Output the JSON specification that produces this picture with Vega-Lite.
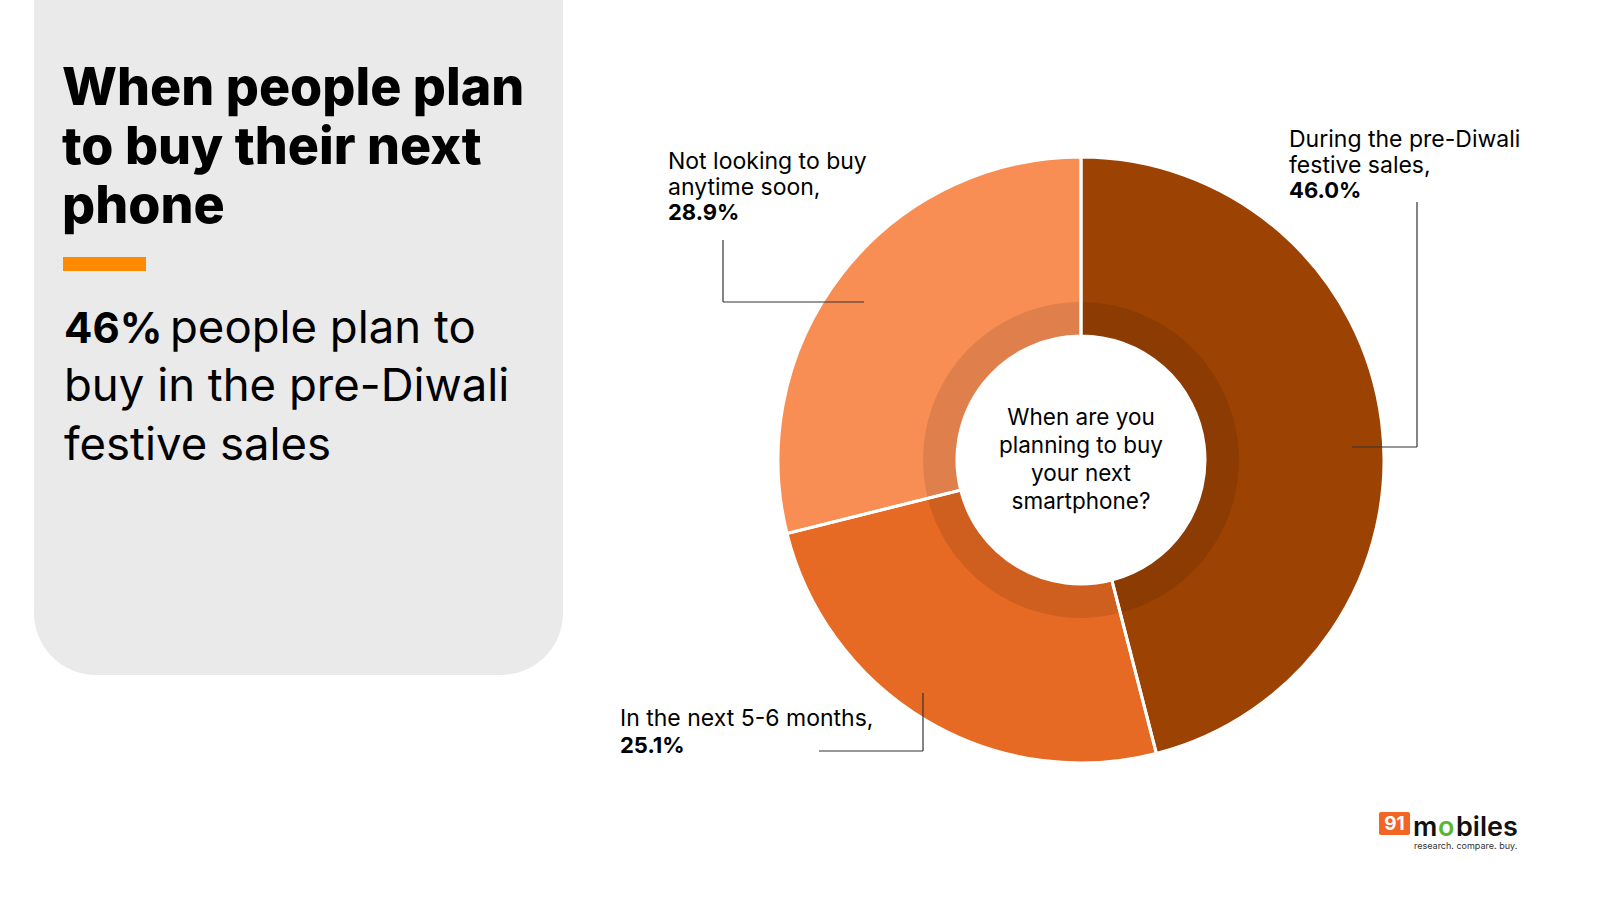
{
  "$schema": "https://vega.github.io/schema/vega-lite/v6.json",
  "width": 1600,
  "height": 900,
  "autosize": {"type": "fit", "contains": "padding"},
  "padding": 0,
  "background": "#ffffff",
  "config": {"view": {"stroke": null}, "font": "Inter", "text": {"font": "Inter"}},
  "datasets": {
    "slices": [
      {"category": "During the pre-Diwali festive sales", "label": "During the pre-Diwali\nfestive sales,", "share": 0.460, "order": 1},
      {"category": "In the next 5-6 months", "label": "In the next 5-6 months,", "share": 0.251, "order": 2},
      {"category": "Not looking to buy anytime soon", "label": "Not looking to buy\nanytime soon,", "share": 0.289, "order": 3}
    ],
    "notes": [
      {"role": "panel", "text": ""},
      {"role": "title", "text": "When people plan\nto buy their next\nphone"},
      {"role": "highlight", "text": "46%"},
      {"role": "sub1", "text": "people plan to"},
      {"role": "sub2", "text": "buy in the pre-Diwali\nfestive sales"},
      {"role": "question", "text": "When are you\nplanning to buy\nyour next\nsmartphone?"},
      {"role": "logo91", "text": "91"},
      {"role": "logom", "text": "m"},
      {"role": "logoo", "text": "o"},
      {"role": "logobiles", "text": "biles"},
      {"role": "tagline", "text": "research.  compare.  buy."}
    ]
  },
  "layer": [
    {
      "data": {"name": "notes"},
      "transform": [{"filter": "datum.role === 'panel'"}],
      "mark": {"type": "rect", "fill": "#eaeaea", "cornerRadiusBottomLeft": 62, "cornerRadiusBottomRight": 62},
      "encoding": {
        "x": {"datum": 34, "type": "quantitative", "scale": {"domain": [0, 1600], "nice": false, "zero": false}, "axis": null},
        "x2": {"datum": 563},
        "y": {"datum": 0, "type": "quantitative", "scale": {"domain": [0, 900], "nice": false, "zero": false, "reverse": true}, "axis": null},
        "y2": {"datum": 675}
      }
    },
    {
      "data": {"name": "notes"},
      "transform": [{"filter": "datum.role === 'panel'"}],
      "mark": {"type": "rect", "fill": "#ff8a00"},
      "encoding": {
        "x": {"datum": 63, "type": "quantitative", "scale": {"domain": [0, 1600], "nice": false, "zero": false}, "axis": null},
        "x2": {"datum": 146},
        "y": {"datum": 257, "type": "quantitative", "scale": {"domain": [0, 900], "nice": false, "zero": false, "reverse": true}, "axis": null},
        "y2": {"datum": 271}
      }
    },
    {
      "data": {"name": "notes"},
      "transform": [{"filter": "datum.role === 'title'"}],
      "mark": {"type": "text", "align": "left", "baseline": "alphabetic", "fontSize": 52, "fontWeight": 800, "lineBreak": "\n", "lineHeight": 59, "color": "#000000"},
      "encoding": {
        "x": {"datum": 62, "type": "quantitative", "scale": {"domain": [0, 1600], "nice": false, "zero": false}, "axis": null},
        "y": {"datum": 105, "type": "quantitative", "scale": {"domain": [0, 900], "nice": false, "zero": false, "reverse": true}, "axis": null},
        "text": {"field": "text"}
      }
    },
    {
      "data": {"name": "notes"},
      "transform": [{"filter": "datum.role === 'highlight'"}],
      "mark": {"type": "text", "align": "left", "baseline": "alphabetic", "fontSize": 42, "fontWeight": "bold", "color": "#000000"},
      "encoding": {
        "x": {"datum": 64, "type": "quantitative", "scale": {"domain": [0, 1600], "nice": false, "zero": false}, "axis": null},
        "y": {"datum": 343, "type": "quantitative", "scale": {"domain": [0, 900], "nice": false, "zero": false, "reverse": true}, "axis": null},
        "text": {"field": "text"}
      }
    },
    {
      "data": {"name": "notes"},
      "transform": [{"filter": "datum.role === 'sub1'"}],
      "mark": {"type": "text", "align": "left", "baseline": "alphabetic", "fontSize": 45.5, "color": "#000000"},
      "encoding": {
        "x": {"datum": 170, "type": "quantitative", "scale": {"domain": [0, 1600], "nice": false, "zero": false}, "axis": null},
        "y": {"datum": 343, "type": "quantitative", "scale": {"domain": [0, 900], "nice": false, "zero": false, "reverse": true}, "axis": null},
        "text": {"field": "text"}
      }
    },
    {
      "data": {"name": "notes"},
      "transform": [{"filter": "datum.role === 'sub2'"}],
      "mark": {"type": "text", "align": "left", "baseline": "alphabetic", "fontSize": 45.5, "lineBreak": "\n", "lineHeight": 59, "color": "#000000"},
      "encoding": {
        "x": {"datum": 64, "type": "quantitative", "scale": {"domain": [0, 1600], "nice": false, "zero": false}, "axis": null},
        "y": {"datum": 401, "type": "quantitative", "scale": {"domain": [0, 900], "nice": false, "zero": false, "reverse": true}, "axis": null},
        "text": {"field": "text"}
      }
    },
    {
      "data": {"name": "slices"},
      "mark": {"type": "arc", "radius": 303, "radius2": 124},
      "encoding": {
        "x": {"datum": 1081, "type": "quantitative", "scale": {"domain": [0, 1600], "nice": false, "zero": false}, "axis": null},
        "y": {"datum": 460, "type": "quantitative", "scale": {"domain": [0, 900], "nice": false, "zero": false, "reverse": true}, "axis": null},
        "theta": {"field": "share", "type": "quantitative", "stack": true},
        "order": {"field": "order", "type": "quantitative"},
        "color": {
          "field": "category", "type": "nominal", "legend": null,
          "scale": {
            "domain": ["During the pre-Diwali festive sales", "In the next 5-6 months", "Not looking to buy anytime soon"],
            "range": ["#9c4304", "#e66a23", "#f98e54"]
          }
        }
      }
    },
    {
      "data": {"name": "slices"},
      "mark": {"type": "arc", "radius": 158, "radius2": 124, "fill": "#000000", "fillOpacity": 0.1},
      "encoding": {
        "x": {"datum": 1081, "type": "quantitative", "scale": {"domain": [0, 1600], "nice": false, "zero": false}, "axis": null},
        "y": {"datum": 460, "type": "quantitative", "scale": {"domain": [0, 900], "nice": false, "zero": false, "reverse": true}, "axis": null},
        "theta": {"field": "share", "type": "quantitative", "stack": true},
        "order": {"field": "order", "type": "quantitative"}
      }
    },
    {
      "data": {"name": "slices"},
      "mark": {"type": "arc", "radius": 303, "radius2": 124, "fillOpacity": 0, "stroke": "#ffffff", "strokeWidth": 3},
      "encoding": {
        "x": {"datum": 1081, "type": "quantitative", "scale": {"domain": [0, 1600], "nice": false, "zero": false}, "axis": null},
        "y": {"datum": 460, "type": "quantitative", "scale": {"domain": [0, 900], "nice": false, "zero": false, "reverse": true}, "axis": null},
        "theta": {"field": "share", "type": "quantitative", "stack": true},
        "order": {"field": "order", "type": "quantitative"}
      }
    },
    {
      "data": {"name": "notes"},
      "transform": [{"filter": "datum.role === 'question'"}],
      "mark": {"type": "text", "align": "center", "baseline": "middle", "fontSize": 22.5, "lineBreak": "\n", "lineHeight": 28, "color": "#000000"},
      "encoding": {
        "x": {"datum": 1081, "type": "quantitative", "scale": {"domain": [0, 1600], "nice": false, "zero": false}, "axis": null},
        "y": {"datum": 418, "type": "quantitative", "scale": {"domain": [0, 900], "nice": false, "zero": false, "reverse": true}, "axis": null},
        "text": {"field": "text"}
      }
    },
    {
      "data": {"name": "slices"},
      "transform": [{"filter": "datum.order === 1"}],
      "mark": {"type": "text", "align": "left", "baseline": "alphabetic", "fontSize": 23, "lineBreak": "\n", "lineHeight": 25.5, "color": "#000000"},
      "encoding": {
        "x": {"datum": 1289, "type": "quantitative", "scale": {"domain": [0, 1600], "nice": false, "zero": false}, "axis": null},
        "y": {"datum": 147, "type": "quantitative", "scale": {"domain": [0, 900], "nice": false, "zero": false, "reverse": true}, "axis": null},
        "text": {"field": "label"}
      }
    },
    {
      "data": {"name": "slices"},
      "transform": [{"filter": "datum.order === 1"}],
      "mark": {"type": "text", "align": "left", "baseline": "alphabetic", "fontSize": 22, "fontWeight": "bold", "color": "#000000"},
      "encoding": {
        "x": {"datum": 1289, "type": "quantitative", "scale": {"domain": [0, 1600], "nice": false, "zero": false}, "axis": null},
        "y": {"datum": 198, "type": "quantitative", "scale": {"domain": [0, 900], "nice": false, "zero": false, "reverse": true}, "axis": null},
        "text": {"field": "share", "type": "quantitative", "format": ".1%"}
      }
    },
    {
      "data": {"name": "slices"},
      "transform": [{"filter": "datum.order === 3"}],
      "mark": {"type": "text", "align": "left", "baseline": "alphabetic", "fontSize": 23, "lineBreak": "\n", "lineHeight": 25.5, "color": "#000000"},
      "encoding": {
        "x": {"datum": 668, "type": "quantitative", "scale": {"domain": [0, 1600], "nice": false, "zero": false}, "axis": null},
        "y": {"datum": 169, "type": "quantitative", "scale": {"domain": [0, 900], "nice": false, "zero": false, "reverse": true}, "axis": null},
        "text": {"field": "label"}
      }
    },
    {
      "data": {"name": "slices"},
      "transform": [{"filter": "datum.order === 3"}],
      "mark": {"type": "text", "align": "left", "baseline": "alphabetic", "fontSize": 22, "fontWeight": "bold", "color": "#000000"},
      "encoding": {
        "x": {"datum": 668, "type": "quantitative", "scale": {"domain": [0, 1600], "nice": false, "zero": false}, "axis": null},
        "y": {"datum": 220, "type": "quantitative", "scale": {"domain": [0, 900], "nice": false, "zero": false, "reverse": true}, "axis": null},
        "text": {"field": "share", "type": "quantitative", "format": ".1%"}
      }
    },
    {
      "data": {"name": "slices"},
      "transform": [{"filter": "datum.order === 2"}],
      "mark": {"type": "text", "align": "left", "baseline": "alphabetic", "fontSize": 23, "color": "#000000"},
      "encoding": {
        "x": {"datum": 620, "type": "quantitative", "scale": {"domain": [0, 1600], "nice": false, "zero": false}, "axis": null},
        "y": {"datum": 726, "type": "quantitative", "scale": {"domain": [0, 900], "nice": false, "zero": false, "reverse": true}, "axis": null},
        "text": {"field": "label"}
      }
    },
    {
      "data": {"name": "slices"},
      "transform": [{"filter": "datum.order === 2"}],
      "mark": {"type": "text", "align": "left", "baseline": "alphabetic", "fontSize": 22, "fontWeight": "bold", "color": "#000000"},
      "encoding": {
        "x": {"datum": 620, "type": "quantitative", "scale": {"domain": [0, 1600], "nice": false, "zero": false}, "axis": null},
        "y": {"datum": 753, "type": "quantitative", "scale": {"domain": [0, 900], "nice": false, "zero": false, "reverse": true}, "axis": null},
        "text": {"field": "share", "type": "quantitative", "format": ".1%"}
      }
    },
    {
      "data": {"name": "slices"},
      "transform": [{"filter": "datum.order === 3"}],
      "layer": [
        {"mark": {"type": "rule", "color": "#333333", "strokeWidth": 1.2},
         "encoding": {
           "x": {"datum": 723, "type": "quantitative", "scale": {"domain": [0, 1600], "nice": false, "zero": false}, "axis": null},
           "y": {"datum": 240, "type": "quantitative", "scale": {"domain": [0, 900], "nice": false, "zero": false, "reverse": true}, "axis": null},
           "y2": {"datum": 302}
         }},
        {"mark": {"type": "rule", "color": "#333333", "strokeWidth": 1.2},
         "encoding": {
           "x": {"datum": 723, "type": "quantitative", "scale": {"domain": [0, 1600], "nice": false, "zero": false}, "axis": null},
           "x2": {"datum": 864},
           "y": {"datum": 302, "type": "quantitative", "scale": {"domain": [0, 900], "nice": false, "zero": false, "reverse": true}, "axis": null}
         }}
      ]
    },
    {
      "data": {"name": "slices"},
      "transform": [{"filter": "datum.order === 1"}],
      "layer": [
        {"mark": {"type": "rule", "color": "#333333", "strokeWidth": 1.2},
         "encoding": {
           "x": {"datum": 1417, "type": "quantitative", "scale": {"domain": [0, 1600], "nice": false, "zero": false}, "axis": null},
           "y": {"datum": 202, "type": "quantitative", "scale": {"domain": [0, 900], "nice": false, "zero": false, "reverse": true}, "axis": null},
           "y2": {"datum": 447}
         }},
        {"mark": {"type": "rule", "color": "#333333", "strokeWidth": 1.2},
         "encoding": {
           "x": {"datum": 1352, "type": "quantitative", "scale": {"domain": [0, 1600], "nice": false, "zero": false}, "axis": null},
           "x2": {"datum": 1417},
           "y": {"datum": 447, "type": "quantitative", "scale": {"domain": [0, 900], "nice": false, "zero": false, "reverse": true}, "axis": null}
         }}
      ]
    },
    {
      "data": {"name": "slices"},
      "transform": [{"filter": "datum.order === 2"}],
      "layer": [
        {"mark": {"type": "rule", "color": "#333333", "strokeWidth": 1.2},
         "encoding": {
           "x": {"datum": 923, "type": "quantitative", "scale": {"domain": [0, 1600], "nice": false, "zero": false}, "axis": null},
           "y": {"datum": 693, "type": "quantitative", "scale": {"domain": [0, 900], "nice": false, "zero": false, "reverse": true}, "axis": null},
           "y2": {"datum": 751}
         }},
        {"mark": {"type": "rule", "color": "#333333", "strokeWidth": 1.2},
         "encoding": {
           "x": {"datum": 819, "type": "quantitative", "scale": {"domain": [0, 1600], "nice": false, "zero": false}, "axis": null},
           "x2": {"datum": 923},
           "y": {"datum": 751, "type": "quantitative", "scale": {"domain": [0, 900], "nice": false, "zero": false, "reverse": true}, "axis": null}
         }}
      ]
    },
    {
      "data": {"name": "notes"},
      "transform": [{"filter": "datum.role === 'logo91'"}],
      "mark": {"type": "rect", "fill": "#f26522", "cornerRadius": 2},
      "encoding": {
        "x": {"datum": 1379, "type": "quantitative", "scale": {"domain": [0, 1600], "nice": false, "zero": false}, "axis": null},
        "x2": {"datum": 1410},
        "y": {"datum": 812, "type": "quantitative", "scale": {"domain": [0, 900], "nice": false, "zero": false, "reverse": true}, "axis": null},
        "y2": {"datum": 835}
      }
    },
    {
      "data": {"name": "notes"},
      "transform": [{"filter": "datum.role === 'logo91'"}],
      "mark": {"type": "text", "align": "center", "baseline": "middle", "fontSize": 19, "fontWeight": "bold", "color": "#ffffff"},
      "encoding": {
        "x": {"datum": 1394.5, "type": "quantitative", "scale": {"domain": [0, 1600], "nice": false, "zero": false}, "axis": null},
        "y": {"datum": 824, "type": "quantitative", "scale": {"domain": [0, 900], "nice": false, "zero": false, "reverse": true}, "axis": null},
        "text": {"field": "text"}
      }
    },
    {
      "data": {"name": "notes"},
      "transform": [{"filter": "datum.role === 'logom'"}],
      "mark": {"type": "text", "align": "left", "baseline": "alphabetic", "fontSize": 27, "fontWeight": 600, "color": "#111111"},
      "encoding": {
        "x": {"datum": 1413, "type": "quantitative", "scale": {"domain": [0, 1600], "nice": false, "zero": false}, "axis": null},
        "y": {"datum": 836, "type": "quantitative", "scale": {"domain": [0, 900], "nice": false, "zero": false, "reverse": true}, "axis": null},
        "text": {"field": "text"}
      }
    },
    {
      "data": {"name": "notes"},
      "transform": [{"filter": "datum.role === 'logoo'"}],
      "mark": {"type": "text", "align": "left", "baseline": "alphabetic", "fontSize": 27, "fontWeight": 600, "color": "#5cb531"},
      "encoding": {
        "x": {"datum": 1438, "type": "quantitative", "scale": {"domain": [0, 1600], "nice": false, "zero": false}, "axis": null},
        "y": {"datum": 836, "type": "quantitative", "scale": {"domain": [0, 900], "nice": false, "zero": false, "reverse": true}, "axis": null},
        "text": {"field": "text"}
      }
    },
    {
      "data": {"name": "notes"},
      "transform": [{"filter": "datum.role === 'logobiles'"}],
      "mark": {"type": "text", "align": "left", "baseline": "alphabetic", "fontSize": 27, "fontWeight": 600, "color": "#111111"},
      "encoding": {
        "x": {"datum": 1456, "type": "quantitative", "scale": {"domain": [0, 1600], "nice": false, "zero": false}, "axis": null},
        "y": {"datum": 836, "type": "quantitative", "scale": {"domain": [0, 900], "nice": false, "zero": false, "reverse": true}, "axis": null},
        "text": {"field": "text"}
      }
    },
    {
      "data": {"name": "notes"},
      "transform": [{"filter": "datum.role === 'tagline'"}],
      "mark": {"type": "text", "align": "left", "baseline": "alphabetic", "fontSize": 9, "color": "#333333"},
      "encoding": {
        "x": {"datum": 1414, "type": "quantitative", "scale": {"domain": [0, 1600], "nice": false, "zero": false}, "axis": null},
        "y": {"datum": 849, "type": "quantitative", "scale": {"domain": [0, 900], "nice": false, "zero": false, "reverse": true}, "axis": null},
        "text": {"field": "text"}
      }
    }
  ]
}
